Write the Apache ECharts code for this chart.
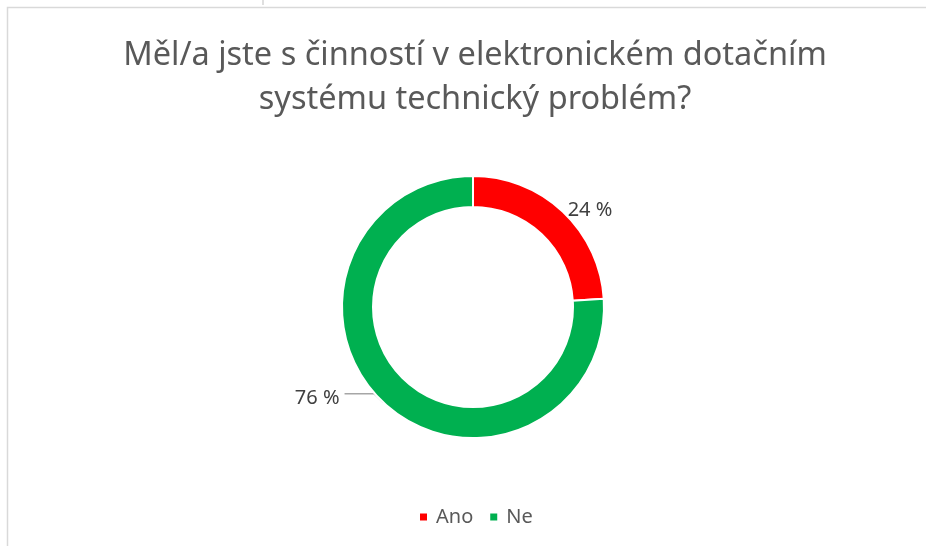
<!DOCTYPE html>
<html><head><meta charset="utf-8">
<script src="https://cdn.jsdelivr.net/npm/echarts@6/dist/echarts.min.js"></script>
<style>html,body{margin:0;padding:0;background:#fff}#c{width:926px;height:546px}</style>
</head><body><div id="c"></div>
<script>
const titleLines = ['Měl/a jste s činností v elektronickém dotačním', 'systému technický problém?'];
const categories = ['Ano', 'Ne'];
const values = [24, 76];
const colors = ['#FF0000', '#00B050'];

const chart = echarts.init(document.getElementById('c'));
const FONT = 'Noto Sans';
chart.setOption({
  backgroundColor: '#fff',
  animation: false,
  title: {
    text: titleLines.join('\n'),
    left: 470, top: 29, textAlign: 'center',
    textStyle: { fontFamily: FONT, fontSize: 32.5, fontWeight: 'normal', color: '#595959', lineHeight: 44 }
  },
  legend: {
    bottom: 14, left: 413,
    itemWidth: 9, itemHeight: 9, itemGap: 15,
    icon: 'rect',
    textStyle: { fontFamily: FONT, fontSize: 20, color: '#595959', padding: [0, 0, 0, 3] },
    data: categories
  },
  graphic: [
    { type: 'rect', shape: { x: 7.5, y: 7.5, width: 1000, height: 1000 }, style: { fill: 'none', stroke: '#d9d9d9', lineWidth: 1.5 }, silent: true },
    { type: 'line', shape: { x1: 263, y1: 0, x2: 263, y2: 5 }, style: { stroke: '#bfbfbf', lineWidth: 1 }, silent: true }
  ],
  series: [{
    type: 'pie',
    center: [473, 307],
    radius: [100, 131],
    startAngle: 90,
    clockwise: true,
    avoidLabelOverlap: false,
    itemStyle: { borderColor: '#fff', borderWidth: 2 },
    label: {
      show: true, position: 'outside',
      formatter: p => p.value + ' %',
      fontFamily: FONT, fontSize: 20, color: '#404040'
    },
    labelLine: { show: true, length: -12, length2: 47, lineStyle: { color: '#a6a6a6', width: 1.5 } },
    labelLayout: p => (p.dataIndex === 1 ? { dy: 5 } : { dy: -1 }),
    data: categories.map((c, i) => {
      const d = { name: c, value: values[i], itemStyle: { color: colors[i] } };
      if (i === 0) d.labelLine = { show: false, length: 0, length2: 0 };
      return d;
    })
  }]
});
</script></body></html>
